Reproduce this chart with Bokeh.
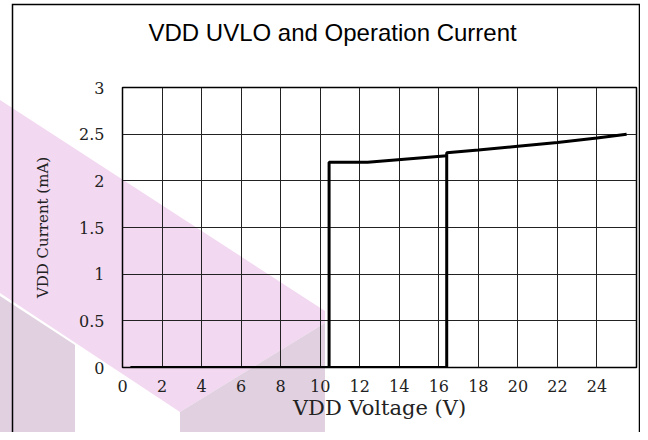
from urllib.parse import quote
from bokeh.plotting import figure
from bokeh.models import FixedTicker, Range1d, Title
from bokeh.embed import file_html
from bokeh.resources import INLINE

# ---- data ----
title_text = "VDD UVLO and Operation Current"
x_label = "VDD Voltage (V)"
y_label = "VDD Current (mA)"

# turn-on path (VDD rising)
volt_on = [0.4, 16.4, 16.4, 18, 20, 22, 24, 25.5]
cur_on = [0.0, 0.0, 2.30, 2.33, 2.37, 2.41, 2.46, 2.50]
# turn-off path (VDD falling)
volt_off = [16.4, 12.4, 10.45, 10.45]
cur_off = [2.27, 2.20, 2.20, 0.0]

x_ticks = [0, 2, 4, 6, 8, 10, 12, 14, 16, 18, 20, 22, 24]
x_tick_labels = ["0", "2", "4", "6", "8", "10", "12", "14", "16", "18", "20", "22", "24"]
y_ticks = [0, 0.5, 1, 1.5, 2, 2.5, 3]
y_tick_labels = ["0", "0.5", "1", "1.5", "2", "2.5", "3"]

W, H = 640, 432

# background decoration (watermark + outer frame of the chart image), CSS only
bg_svg = (
    f'<svg xmlns="http://www.w3.org/2000/svg" width="{W}" height="{H}">'
    '<polygon points="0,100 325,311 325,323 180,412 0,293" fill="#f2d8f0"/>'
    '<polygon points="0,296 75,345 75,440 0,440" fill="#e0d0e0"/>'
    '<polygon points="180,412 325,323 325,440 180,440" fill="#e0d0e0"/>'
    '<polyline points="12.5,440 12.5,4.5 639.5,4.5 639.5,440" fill="none" '
    'stroke="black" stroke-width="1.5"/>'
    '</svg>'
)

p = figure(width=W, height=H, output_backend="svg", toolbar_location=None,
           x_range=Range1d(0, 26), y_range=Range1d(0, 3),
           min_border_left=122, min_border_right=4,
           min_border_top=87, min_border_bottom=65)
p.styles = {
    "background-image": 'url("data:image/svg+xml,' + quote(bg_svg) + '")',
    "background-repeat": "no-repeat",
    "background-color": "white",
}
p.background_fill_color = None
p.border_fill_color = None
p.outline_line_color = "black"
p.outline_line_width = 1.5

# main title (outermost panel)
p.title.text = title_text
p.title.text_font = "Liberation Sans"
p.title.text_font_size = "24px"
p.title.text_font_style = "normal"
p.title.text_color = "black"
p.title.align = "left"
p.title.offset = 26
p.title.standoff = 20

# spacer panel between the frame and the title (nearest to the frame)
spacer = Title(text=" ", text_font_size="12px", standoff=16)
p.add_layout(spacer, "above")

p.xaxis.ticker = FixedTicker(ticks=x_ticks)
p.xaxis.major_label_overrides = dict(zip(x_ticks, x_tick_labels))
p.yaxis.ticker = FixedTicker(ticks=y_ticks)
p.yaxis.major_label_overrides = dict(zip(y_ticks, y_tick_labels))

for ax in (p.xaxis, p.yaxis):
    ax.axis_line_color = None
    ax.major_tick_line_color = None
    ax.minor_tick_line_color = None
    ax.major_tick_out = 0
    ax.major_tick_in = 0
    ax.major_label_text_font = "DejaVu Serif"
    ax.major_label_text_font_size = "16px"
    ax.major_label_text_color = "#222222"
    ax.axis_label_text_font = "DejaVu Serif"
    ax.axis_label_text_font_style = "normal"
    ax.axis_label_text_color = "#222222"

p.xaxis.axis_label = x_label
p.xaxis.axis_label_text_font_size = "21px"
p.xaxis.major_label_standoff = 12
p.xaxis.axis_label_standoff = 1
p.yaxis.axis_label = y_label
p.yaxis.axis_label_text_font_size = "15px"
p.yaxis.major_label_standoff = 18
p.yaxis.axis_label_standoff = 24

p.grid.grid_line_color = "#222222"
p.grid.grid_line_width = 1
p.grid.grid_line_alpha = 1

p.line(volt_on, cur_on, line_color="black", line_width=3)
p.line(volt_off, cur_off, line_color="black", line_width=3)

open("out.html", "w").write(file_html(p, INLINE))
